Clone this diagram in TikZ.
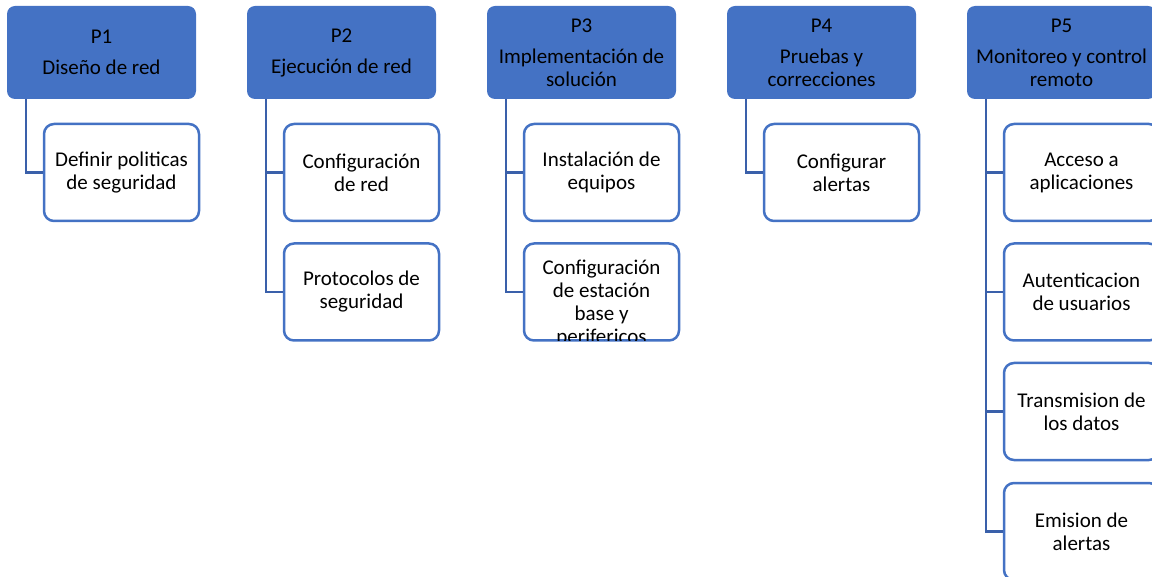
\documentclass[tikz,border=0pt]{standalone}
\usepackage{fontspec}
\setmainfont{Carlito}
\usetikzlibrary{calc}

\definecolor{azul}{RGB}{68,114,196}
\definecolor{azuloscuro}{RGB}{58,96,170}

\tikzset{
  fase/.style={fill=azul, rounded corners=8pt, minimum width=189pt, minimum height=93pt,
    align=center, inner sep=0pt, font=\fontsize{21}{23}\selectfont},
  tarea/.style={draw=azul, line width=2.5pt, fill=white, rounded corners=10pt,
    minimum width=155pt, minimum height=97pt, align=center, inner sep=0pt,
    font=\fontsize{21}{23}\selectfont},
  conector/.style={draw=azuloscuro, line width=2.5pt}
}

\begin{document}
\begin{tikzpicture}[x=1pt,y=-1pt]
  % Marco de la imagen
  \clip (0,0) rectangle (1152,577);

  % Fases (encabezados)
  \node[fase] (p1) at (101.5,52.5) {P1\\[8pt]Diseño de red};
  \node[fase] (p2) at (341.5,52.5) {P2\\[8pt]Ejecución de red};
  \node[fase] (p3) at (581.5,52.5) {P3\\[8pt]Implementación de\\solución};
  \node[fase] (p4) at (821.5,52.5) {P4\\[8pt]Pruebas y\\correcciones};
  \node[fase] (p5) at (1061.5,52.5) {P5\\[8pt]Monitoreo y control\\remoto};

  % Tareas de P1
  \node[tarea] (c11) at (121.5,172.5) {Definir politicas\\de seguridad};

  % Tareas de P2
  \node[tarea] (c21) at (361.5,172.5) {Configuración\\de red};
  \node[tarea] (c22) at (361.5,292) {Protocolos de\\seguridad};

  % Tareas de P3 (la segunda con el texto recortado)
  \node[tarea] (c31) at (601.5,172.5) {Instalación de\\equipos};
  \node[tarea] (c32) at (601.5,292) {};
  \begin{scope}
    \clip[rounded corners=8pt] ($(c32.north west)+(1.5,1.5)$) rectangle ($(c32.south east)+(-1.5,-1.5)$);
    \node[align=center, inner sep=0pt, font=\fontsize{21}{23}\selectfont] at ($(c32)+(0,11)$)
      {Configuración\\de estación\\base y\\perifericos};
  \end{scope}

  % Tareas de P4
  \node[tarea] (c41) at (841.5,172.5) {Configurar\\alertas};

  % Tareas de P5
  \node[tarea] (c51) at (1081.5,172.5) {Acceso a\\aplicaciones};
  \node[tarea] (c52) at (1081.5,292) {Autenticacion\\de usuarios};
  \node[tarea] (c53) at (1081.5,411.5) {Transmision de\\los datos};
  \node[tarea] (c54) at (1081.5,531.5) {Emision de\\alertas};

  % Conectores
  \draw[conector] ($(p1.south west)+(19,0)$) |- (c11.west);
  \draw[conector] ($(p2.south west)+(19,0)$) |- (c21.west);
  \draw[conector] ($(p2.south west)+(19,0)$) |- (c22.west);
  \draw[conector] ($(p3.south west)+(19,0)$) |- (c31.west);
  \draw[conector] ($(p3.south west)+(19,0)$) |- (c32.west);
  \draw[conector] ($(p4.south west)+(19,0)$) |- (c41.west);
  \draw[conector] ($(p5.south west)+(19,0)$) |- (c51.west);
  \draw[conector] ($(p5.south west)+(19,0)$) |- (c52.west);
  \draw[conector] ($(p5.south west)+(19,0)$) |- (c53.west);
  \draw[conector] ($(p5.south west)+(19,0)$) |- (c54.west);

\end{tikzpicture}
\end{document}
